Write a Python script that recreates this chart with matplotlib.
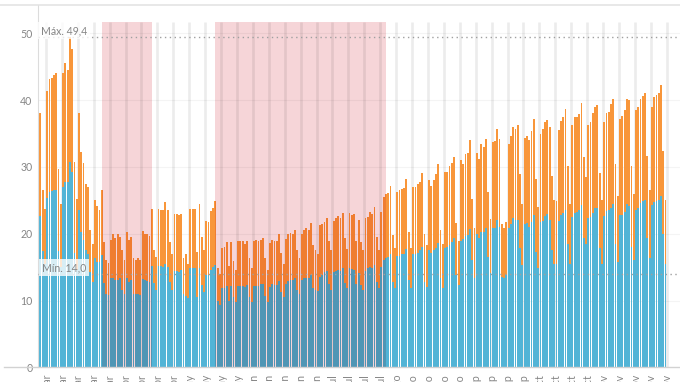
import numpy as np
import pandas as pd
import matplotlib
matplotlib.use("Agg")
import matplotlib.pyplot as plt
from matplotlib.colors import to_rgb
from matplotlib.patches import Rectangle
from matplotlib.lines import Line2D

plt.rcParams['font.family'] = ['Lato', 'DejaVu Sans']

# ---------------- data ----------------
fecha_inicio = "2020-02-28"

total = [
    38.0, 26.5, 23.7,
    41.3, 43.1, 43.3, 43.8, 44.1, 29.7, 24.5,
    44.0, 45.6, 44.5, 49.4, 47.6, 30.7, 25.2,
    38.1, 32.2, 30.6, 27.5, 27.0, 20.5, 18.5,
    25.0, 24.1, 23.5, 26.6, 18.7, 16.0, 15.6,
    19.0, 19.9, 19.3, 19.9, 19.5, 17.5, 16.0,
    20.3, 19.0, 19.5, 16.3, 16.0, 16.3, 16.0,
    20.4, 20.0, 19.9, 19.6, 23.7, 17.5, 16.5,
    23.7, 23.6, 23.6, 24.7, 23.5, 18.7, 17.0,
    22.9, 23.0, 22.8, 23.0, 16.3, 17.0, 15.5,
    23.7, 23.7, 23.7, 17.3, 24.5, 19.5, 17.5,
    21.9, 21.8, 23.4, 23.8, 24.9, 14.8, 14.0,
    17.9, 18.0, 18.7, 15.1, 18.7, 15.9, 14.6,
    18.9, 18.9, 18.9, 18.4, 18.9, 16.3, 14.9,
    18.9, 19.0, 18.9, 19.1, 19.4, 16.4, 14.6,
    18.6, 19.1, 18.9, 18.9, 20.0, 17.1, 15.5,
    19.2, 19.9, 20.1, 19.9, 20.5, 17.6, 16.4,
    19.9, 20.5, 20.8, 20.6, 21.6, 18.3, 17.5,
    17.0, 21.3, 21.4, 21.8, 22.4, 18.9, 17.6,
    21.9, 22.3, 22.6, 22.4, 23.1, 19.4, 17.7,
    23.1, 22.8, 23.0, 18.9, 22.1, 18.8, 17.5,
    22.4, 22.5, 23.3, 22.9, 24.0, 19.5, 17.5,
    23.3, 25.5, 25.9, 26.1, 27.2, 19.8, 17.9,
    26.2, 26.5, 26.7, 26.8, 28.2, 20.3, 17.9,
    27.0, 27.0, 27.4, 27.7, 29.1, 19.9, 18.3,
    28.1, 27.2, 28.1, 29.0, 30.5, 20.5, 18.5,
    29.3, 29.3, 30.2, 30.6, 31.5, 21.6, 18.9,
    31.0, 30.4, 31.9, 32.1, 34.1, 25.2, 20.8,
    32.1, 31.2, 33.4, 33.0, 34.2, 26.3, 22.2,
    33.7, 33.9, 35.7, 34.2, 21.4, 20.8, 21.8,
    33.5, 34.6, 36.0, 35.7, 36.3, 29.0, 24.5,
    34.4, 34.7, 34.0, 35.3, 37.2, 28.2, 24.0,
    35.0, 35.6, 36.7, 37.0, 35.9, 28.6, 25.0,
    24.9, 35.5, 36.8, 37.4, 38.7, 30.1, 24.4,
    36.2, 37.4, 37.5, 37.9, 39.5, 31.5, 28.5,
    36.3, 36.7, 38.1, 38.9, 39.2, 29.1, 25.1,
    36.7, 38.1, 38.2, 39.4, 40.1, 30.5, 25.6,
    37.2, 37.6, 38.5, 40.2, 40.0, 30.1, 26.0,
    38.5, 38.9, 40.1, 40.6, 41.1, 31.6, 26.5,
    39.0, 40.4, 40.7, 41.0, 42.2, 32.4, 25.1,
]

azul = [
    22.6, 17.4, 15.5,
    25.3, 26.3, 26.4, 26.5, 26.5, 17.4, 15.0,
    27.0, 27.7, 27.7, 30.7, 29.2, 17.1, 14.5,
    23.6, 20.3, 19.1, 17.5, 17.0, 14.3, 12.8,
    16.4, 15.8, 15.8, 16.8, 12.6, 11.0, 10.8,
    13.4, 13.4, 13.1, 13.1, 13.4, 11.6, 11.0,
    13.4, 12.8, 13.1, 10.9, 10.9, 10.9, 10.8,
    13.2, 13.0, 12.9, 12.8, 15.2, 12.6, 11.6,
    15.2, 15.1, 15.0, 15.5, 15.0, 12.8, 11.6,
    14.4, 14.4, 14.3, 14.6, 11.0, 10.7, 10.3,
    14.8, 14.8, 14.9, 10.5, 14.9, 12.3, 11.3,
    13.8, 13.8, 14.6, 15.0, 15.3, 10.0, 9.3,
    11.8, 11.9, 12.1, 10.0, 12.1, 10.5, 9.8,
    12.1, 12.1, 12.1, 12.0, 12.3, 10.5, 9.8,
    12.1, 12.1, 12.1, 12.4, 12.4, 10.7, 9.8,
    12.0, 12.4, 12.3, 12.3, 12.9, 11.2, 10.5,
    12.4, 12.9, 13.0, 13.0, 13.3, 11.5, 10.9,
    13.0, 13.4, 13.4, 13.4, 13.8, 11.8, 11.6,
    11.4, 13.5, 13.8, 14.3, 14.4, 12.4, 11.6,
    14.2, 14.4, 14.5, 14.4, 14.8, 12.6, 11.8,
    14.8, 14.7, 14.6, 12.5, 14.1, 12.3, 11.6,
    14.4, 14.8, 15.0, 14.8, 15.3, 12.8, 11.8,
    15.0, 16.1, 16.4, 16.5, 17.0, 12.8, 11.9,
    16.6, 16.7, 16.9, 17.0, 17.7, 13.1, 11.9,
    16.9, 17.0, 17.1, 17.5, 18.0, 12.8, 12.0,
    17.5, 17.1, 17.5, 17.9, 18.6, 13.3, 11.8,
    17.9, 18.0, 18.3, 18.8, 19.3, 13.8, 12.3,
    18.9, 19.2, 19.6, 19.8, 20.7, 16.0, 13.3,
    20.0, 19.3, 20.3, 20.3, 20.9, 16.5, 14.1,
    20.8, 20.9, 22.0, 21.0, 13.5, 13.3, 13.8,
    20.9, 21.5, 22.3, 22.1, 22.1, 17.9, 15.3,
    21.5, 21.6, 21.0, 21.8, 22.8, 17.3, 14.8,
    21.8, 21.9, 22.6, 22.9, 22.0, 17.6, 15.5,
    15.5, 21.9, 22.8, 23.1, 23.5, 18.5, 15.5,
    22.5, 23.1, 23.2, 23.5, 24.3, 19.3, 18.4,
    22.3, 22.5, 23.1, 23.8, 23.8, 17.8, 15.5,
    22.7, 23.4, 23.5, 23.9, 24.4, 18.5, 15.8,
    22.8, 22.8, 23.3, 24.5, 24.1, 18.0, 16.0,
    23.5, 23.8, 24.6, 24.9, 25.0, 19.4, 16.4,
    24.3, 24.8, 24.9, 25.0, 25.6, 19.9, 15.4,
]

cuarentenas = [("2020-03-26", "2020-04-17"), ("2020-05-15", "2020-07-29")]
meses = ["ene", "feb", "mar", "abr", "may", "jun", "jul", "ago", "sep", "oct", "nov", "dic"]
primer_lunes = "2020-03-02"
ultimo_lunes = "2020-11-30"
y_ticks = [0, 10, 20, 30, 40, 50]

# ---------------- styles ----------------
C_BLUE = "#52b4d6"
C_ORANGE = "#f8963a"
C_PINK = "#f6d5d8"
C_TEXT = "#858585"
C_REF = "#a0a0a0"
FS = 7.6

def multiply(c1, c2):
    a, b = to_rgb(c1), to_rgb(c2)
    return tuple(x * y for x, y in zip(a, b))

C_BLUE_D = multiply(C_BLUE, C_PINK)
C_ORANGE_D = multiply(C_ORANGE, C_PINK)

fechas = pd.date_range(fecha_inicio, periods=len(total), freq="D")
t0 = fechas[0]
x = np.array([(f - t0).days for f in fechas], dtype=float)
total_a = np.array(total)
azul_a = np.array(azul)
naranja_a = total_a - azul_a

def dx(fecha):
    return (pd.Timestamp(fecha) - t0).days

W, H = 680, 382
fig = plt.figure(figsize=(W / 100, H / 100), dpi=100)
ax_left_px, ax_bottom_px, ax_top_px = 38.3, 14.7, 377.0
ax = fig.add_axes([ax_left_px / W, ax_bottom_px / H, 1 - ax_left_px / W,
                   (ax_top_px - ax_bottom_px) / H])

px_per_day = 2.2736
x0_pix = 47.14  # center of first monday
lunes_x = dx(primer_lunes)
xlim_left = lunes_x - (x0_pix - ax_left_px) / px_per_day
xlim_right = xlim_left + (W - ax_left_px) / px_per_day
ax.set_xlim(xlim_left, xlim_right)
px_per_unit = 6.68
ylim_top = (ax_top_px - ax_bottom_px) / px_per_unit
ax.set_ylim(0, ylim_top)
band_top = (367.3 - 22.0) / px_per_unit

# pink bands
rects = []
for a, b in cuarentenas:
    r = Rectangle((dx(a), 0), dx(b) - dx(a), band_top, facecolor=C_PINK,
                  edgecolor="none", zorder=0.5)
    ax.add_patch(r)
    rects.append(r)

# horizontal grid
for yv in y_ticks[1:]:
    ax.axhline(yv, color=(0, 0, 0, 0.045), lw=0.8, zorder=1)

# week lines
lunes = pd.date_range(primer_lunes, ultimo_lunes, freq="7D")
for f in lunes:
    xv = (f - t0).days - 0.5
    ax.plot([xv, xv], [0, band_top], color=(0, 0, 0, 0.075), lw=1.9,
            zorder=1, solid_capstyle="butt")

# bars
bw = 0.8
ax.bar(x, azul_a, width=bw, color=C_BLUE, linewidth=0, zorder=2)
ax.bar(x, naranja_a, bottom=azul_a, width=bw, color=C_ORANGE, linewidth=0, zorder=2)
for r in rects:
    b1 = ax.bar(x, azul_a, width=bw, color=C_BLUE_D, linewidth=0, zorder=2.1)
    b2 = ax.bar(x, naranja_a, bottom=azul_a, width=bw, color=C_ORANGE_D,
                linewidth=0, zorder=2.1)
    for p in list(b1) + list(b2):
        p.set_clip_path(r)

# reference lines
vmax = total_a.max()
vmin = total_a.min()
for v in (vmax, vmin):
    ax.axhline(v, color=C_REF, lw=1.0, linestyle=(0, (1, 2.5)), zorder=3)

def fmt(v):
    return f"{v:.1f}".replace(".", ",")

box = dict(boxstyle="square,pad=0.25", fc="white", ec="none", alpha=0.78)
ax.annotate(f"Máx. {fmt(vmax)}", xy=(0, vmax), xycoords=("axes fraction", "data"),
            xytext=(2.0, 2.4), textcoords="offset points", fontsize=FS,
            color=C_TEXT, va="baseline", ha="left", zorder=4, bbox=box)
ax.annotate(f"Mín. {fmt(vmin)}", xy=(0, vmin), xycoords=("axes fraction", "data"),
            xytext=(2.4, 2.0), textcoords="offset points", fontsize=FS,
            color=C_TEXT, va="baseline", ha="left", zorder=4, bbox=box)

# axes styling
for s in ("top", "right", "bottom"):
    ax.spines[s].set_visible(False)
ax.spines["left"].set_color("#dcdcdc")
ax.spines["left"].set_linewidth(0.8)
ax.set_yticks(y_ticks)
ax.set_yticklabels([str(v) for v in y_ticks])
ax.tick_params(axis="y", length=0, pad=4.3, labelsize=FS, labelcolor=C_TEXT)
ax.set_xticks([(f - t0).days for f in lunes])
ax.set_xticklabels([f"{f.day} {meses[f.month - 1]}" for f in lunes], rotation=90)
ax.tick_params(axis="x", length=0, pad=5.5, labelsize=FS, labelcolor=C_TEXT)
ax.set_facecolor("white")

# figure lines
fig.add_artist(Line2D([0, 1], [ax_top_px / H, ax_top_px / H], color="#e2e2e2",
                      lw=1.1, transform=fig.transFigure))
fig.add_artist(Line2D([4 / W, 1], [ax_bottom_px / H, ax_bottom_px / H],
                      color="#d2d2d2", lw=1.0, transform=fig.transFigure))

fig.savefig("out.png", dpi=100)
